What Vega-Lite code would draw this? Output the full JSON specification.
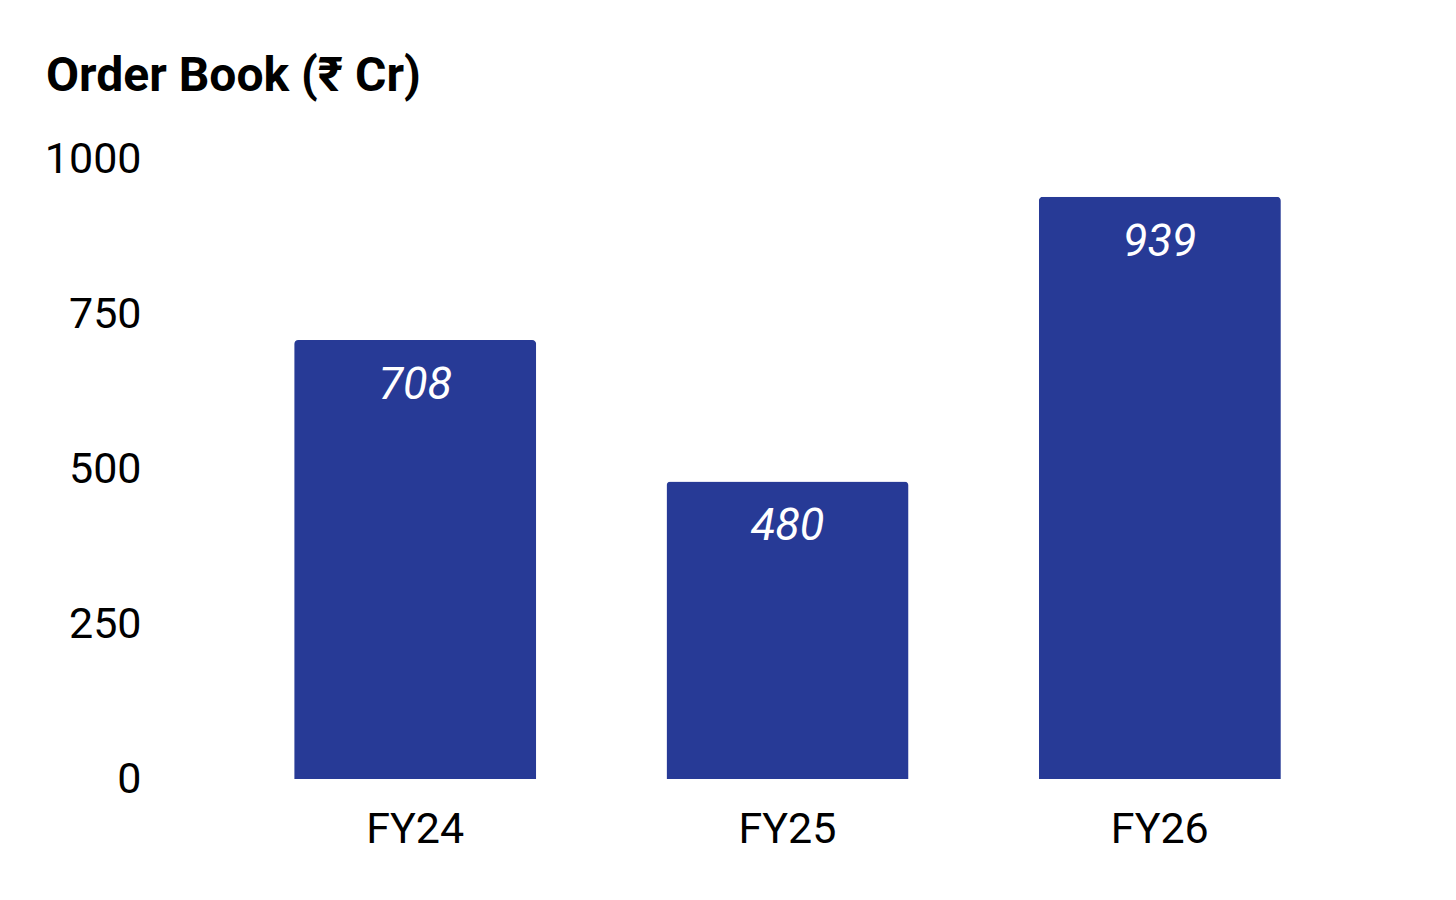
{
  "$schema": "https://vega.github.io/schema/vega-lite/v6.json",
  "width": 1117,
  "height": 620,
  "autosize": "none",
  "padding": {"left": 229, "top": 159, "right": 110, "bottom": 121},
  "background": "white",
  "config": {
    "font": "Roboto",
    "view": {"stroke": null}
  },
  "title": {
    "text": "Order Book (₹ Cr)",
    "anchor": "start",
    "frame": "group",
    "fontSize": 48,
    "fontWeight": "bold",
    "color": "#000000",
    "dx": -183,
    "offset": 37
  },
  "data": {
    "values": [
      {"year": "FY24", "order_book": 708},
      {"year": "FY25", "order_book": 480},
      {"year": "FY26", "order_book": 939}
    ]
  },
  "encoding": {
    "x": {
      "field": "year",
      "type": "nominal",
      "sort": null,
      "scale": {"paddingInner": 0.35, "paddingOuter": 0.175},
      "axis": {
        "title": null,
        "domain": false,
        "ticks": false,
        "labelAngle": 0,
        "labelFontSize": 43,
        "labelColor": "#000000",
        "labelPadding": 29
      }
    },
    "y": {
      "field": "order_book",
      "type": "quantitative",
      "scale": {"domain": [0, 1000]},
      "axis": {
        "title": null,
        "domain": false,
        "ticks": false,
        "grid": false,
        "format": "d",
        "values": [0, 250, 500, 750, 1000],
        "labelFontSize": 43,
        "labelColor": "#000000",
        "labelPadding": 88
      }
    }
  },
  "layer": [
    {
      "mark": {
        "type": "bar",
        "color": "#273a96",
        "cornerRadiusTopLeft": 4,
        "cornerRadiusTopRight": 4
      }
    },
    {
      "mark": {
        "type": "text",
        "color": "#ffffff",
        "fontSize": 45,
        "fontStyle": "italic",
        "baseline": "middle",
        "dy": 45
      },
      "encoding": {
        "text": {"field": "order_book", "type": "quantitative"}
      }
    }
  ]
}
